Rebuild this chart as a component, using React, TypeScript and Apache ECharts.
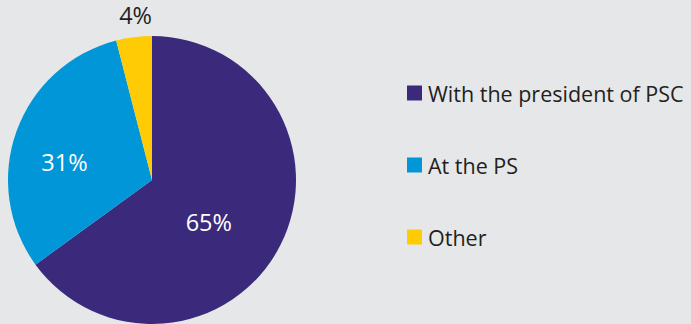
import React, { useEffect, useRef } from "react";
import * as echarts from "echarts";

const categories = ["With the president of PSC", "At the PS", "Other"];
const values = [65, 31, 4];
const colors = ["#3b2a7b", "#0096d7", "#ffcb05"];
const labelColors = ["#ffffff", "#ffffff", "#231f20"];
const labelOffsets: [number, number][] = [[-10, 8], [-17, 7], [-7, -91]];

export default function App() {
  const ref = useRef<HTMLDivElement>(null);
  useEffect(() => {
    const chart = echarts.init(ref.current!, null, { renderer: "svg" });
    chart.setOption({
      animation: false,
      backgroundColor: "#e6e7e9",
      legend: {
        orient: "vertical",
        left: 407,
        top: 82,
        padding: 0,
        itemWidth: 15,
        itemHeight: 15,
        itemGap: 50,
        icon: "rect",
        data: categories,
        textStyle: {
          fontFamily: "Open Sans",
          fontSize: 21.5,
          lineHeight: 22,
          color: "#231f20",
          padding: [0, 0, 0, 1],
        },
      },
      series: [
        {
          type: "pie",
          center: [152, 180],
          radius: [0, 144],
          startAngle: 90,
          clockwise: true,
          avoidLabelOverlap: false,
          labelLine: { show: false },
          data: categories.map((name, i) => ({
            name,
            value: values[i],
            itemStyle: { color: colors[i] },
            label: {
              show: true,
              position: "inside",
              formatter: "{c}%",
              color: labelColors[i],
              fontFamily: "Open Sans",
              fontSize: 23.5,
              offset: labelOffsets[i],
            },
          })),
        },
      ],
    });
    return () => chart.dispose();
  }, []);
  return (
    <div
      ref={ref}
      style={{ position: "fixed", left: 0, top: 0, width: 691, height: 324 }}
    />
  );
}
